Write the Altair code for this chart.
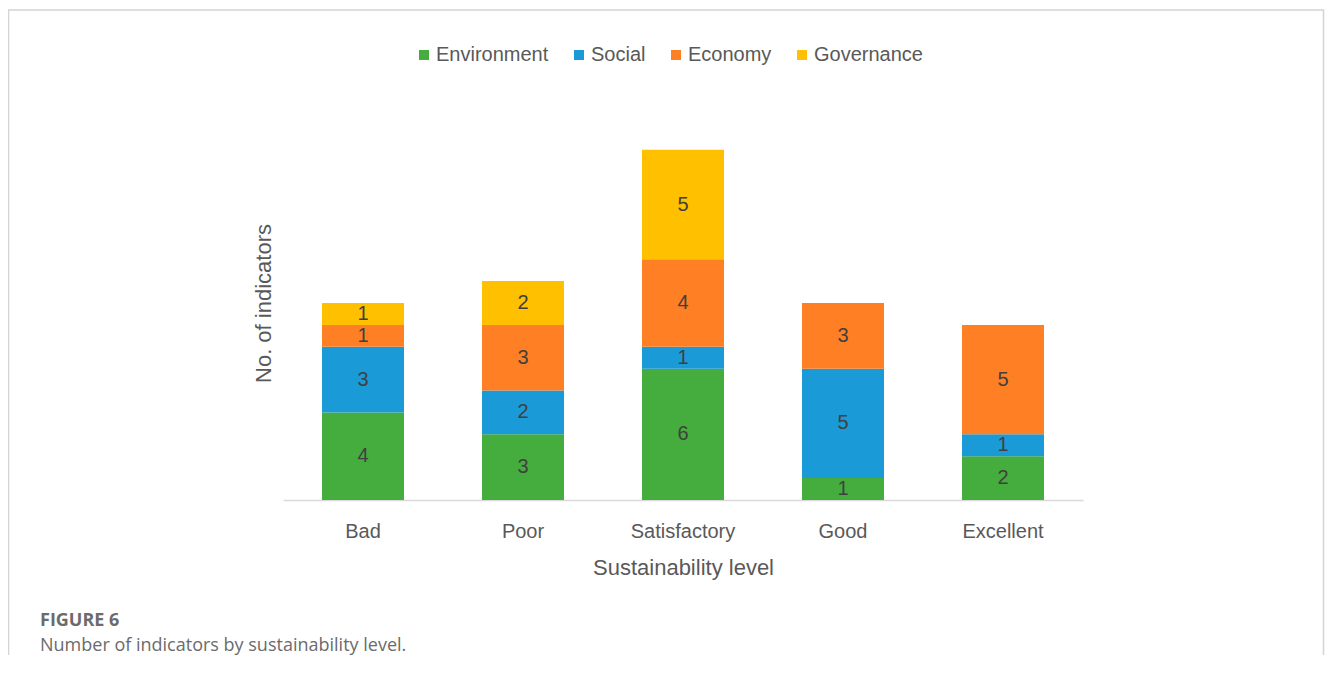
import altair as alt
import pandas as pd

levels = ["Bad", "Poor", "Satisfactory", "Good", "Excellent"]
series = ["Environment", "Social", "Economy", "Governance"]
colors = ["#45AD3D", "#1A9BD7", "#FF7F24", "#FFC000"]

environment = [4, 3, 6, 1, 2]
social = [3, 2, 1, 5, 1]
economy = [1, 3, 4, 3, 5]
governance = [1, 2, 5, 0, 0]

rows = []
for si, (name, vals) in enumerate(zip(series, [environment, social, economy, governance])):
    for lv, v in zip(levels, vals):
        if v > 0:
            rows.append({"level": lv, "series": name, "value": v, "idx": si})
df = pd.DataFrame(rows)

FONT = "Liberation Sans, Arial"
GRAY = "#595959"

xenc = alt.X(
    "level:N",
    sort=levels,
    scale=alt.Scale(paddingInner=0, paddingOuter=0),
    axis=alt.Axis(
        title="Sustainability level",
        labelAngle=0,
        labelFont=FONT,
        labelFontSize=20,
        labelColor=GRAY,
        labelPadding=21,
        ticks=False,
        tickSize=0,
        domainColor="#d9d9d9",
        domainWidth=1.5,
        titleFont=FONT,
        titleFontSize=22,
        titleFontWeight="normal",
        titleColor=GRAY,
        titlePadding=16,
        grid=False,
    ),
)
yscale = alt.Scale(domain=[0, 18], nice=False)

base = alt.Chart(df)

bars = base.mark_bar(size=82).encode(
    x=xenc,
    y=alt.Y(
        "value:Q",
        stack="zero",
        scale=yscale,
        axis=alt.Axis(
            title="No. of indicators",
            labels=False,
            ticks=False,
            tickSize=0,
            domain=False,
            grid=False,
            titleFont=FONT,
            titleFontSize=22,
            titleFontWeight="normal",
            titleColor=GRAY,
            titlePadding=8,
        ),
    ),
    color=alt.Color(
        "series:N",
        scale=alt.Scale(domain=series, range=colors),
        legend=alt.Legend(
            title=None,
            orient="none",
            direction="horizontal",
            legendX=131,
            legendY=-61,
            symbolType="square",
            symbolSize=100,
            symbolStrokeWidth=0,
            labelFont=FONT,
            labelFontSize=20,
            labelColor=GRAY,
            labelOffset=2,
            columnPadding=20,
            padding=0,
        ),
    ),
    order=alt.Order("idx:Q", sort="ascending"),
)

labels = (
    base.transform_stack(
        stack="value",
        as_=["y0", "y1"],
        groupby=["level"],
        sort=[alt.SortField("idx", order="ascending")],
    )
    .transform_calculate(mid="(datum.y0 + datum.y1) / 2")
    .mark_text(font=FONT, fontSize=20, color="#404040", baseline="middle", align="center")
    .encode(x=alt.X("level:N", sort=levels), y=alt.Y("mid:Q", scale=yscale), text="value:Q")
)

one = pd.DataFrame({"k": [0]})
frame = alt.Chart(one).mark_rect(fill="transparent", stroke="#d4d4d4", strokeWidth=1.5).encode(
    x=alt.value(-274.5), x2=alt.value(1040.5), y=alt.value(-96), y2=alt.value(700)
)
cap1 = alt.Chart(one).mark_text(
    text="FIGURE 6", font="Open Sans", fontSize=18, fontWeight="bold", color="#6b6b6b",
    align="left", baseline="alphabetic"
).encode(x=alt.value(-243), y=alt.value(520))
cap2 = alt.Chart(one).mark_text(
    text="Number of indicators by sustainability level.", font="Open Sans", fontSize=18,
    color="#6b6b6b", align="left", baseline="alphabetic"
).encode(x=alt.value(-243), y=alt.value(545))

chart = (
    alt.layer(frame, bars, labels, cap1, cap2)
    .properties(
        width=800,
        height=394,
        padding={"left": 275, "top": 98, "right": 242, "bottom": 155},
        autosize=alt.AutoSizeParams(type="none"),
        background="white",
    )
    .configure_view(stroke=None)
)

chart.save("out.html", embed_options={"renderer": "svg", "actions": False})
